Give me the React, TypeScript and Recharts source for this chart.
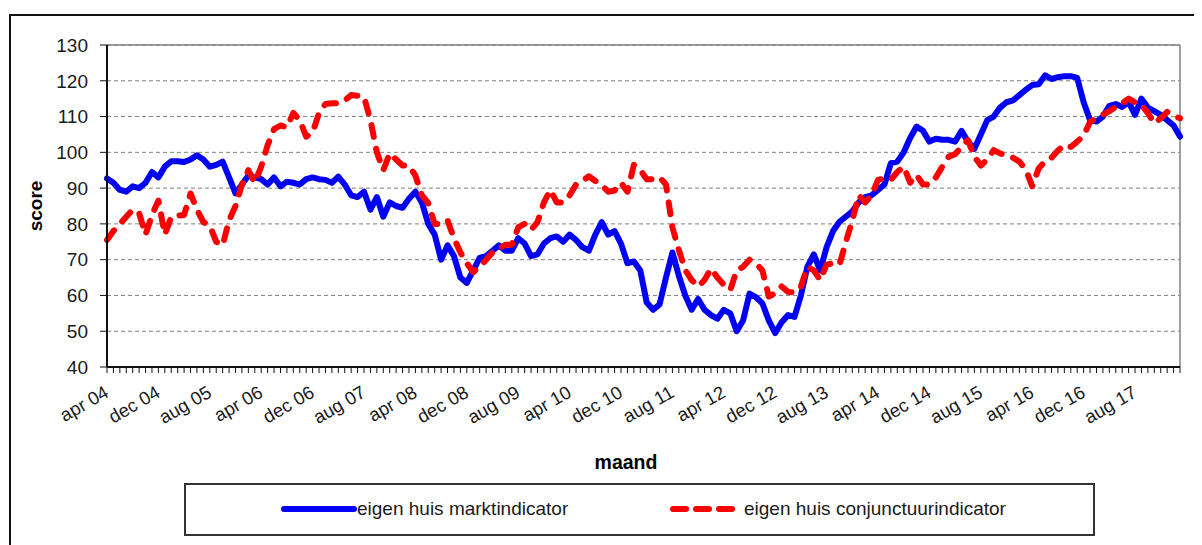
import React from 'react';
import {
  LineChart,
  Line,
  XAxis,
  YAxis,
  CartesianGrid,
  ReferenceLine,
} from 'recharts';

// maandnamen, reeks begint april 2004
const monthNames = ['jan', 'feb', 'mrt', 'apr', 'mei', 'jun', 'jul', 'aug', 'sep', 'okt', 'nov', 'dec'];
const startMonth = 3;
const startYear = 4;

const yTicks = [40, 50, 60, 70, 80, 90, 100, 110, 120, 130];

// eigen huis marktindicator (blauw)
const marktIndicator = [
  92.7, 91.5, 89.5, 89, 90.5, 90, 91.5, 94.5, 93, 96,
  97.5, 97.5, 97.3, 98, 99.2, 98, 96, 96.5, 97.4, 93,
  88.5, 91, 93.5, 93, 92.5, 91, 93, 90.5, 91.8, 91.5,
  91, 92.5, 93, 92.5, 92.3, 91.5, 93.2, 91, 88, 87.5,
  89, 84, 87.5, 82, 86, 85, 84.5, 87, 89, 86,
  80, 77, 70, 74, 71, 65, 63.5, 67, 70.5, 71,
  72.5, 74, 72.5, 72.5, 76, 74.5, 71, 71.5, 74.5, 76,
  76.5, 75, 77, 75.5, 73.5, 72.5, 77, 80.5, 77, 78,
  74.5, 69, 69.5, 67, 58, 56, 57.5, 65, 72, 65.5,
  60, 56, 59, 56, 54.5, 53.5, 56, 55, 50, 53,
  60.5, 59.5, 57.8, 53, 49.5, 52.5, 54.5, 54, 60, 68,
  71.5, 67, 73.5, 78, 80.6, 82, 83.5, 86, 87.5, 88,
  89.5, 91, 97, 97.4, 100, 104, 107.2, 106, 103, 103.8,
  103.5, 103.5, 103, 106, 103, 101, 105, 109, 110, 112.5,
  114, 114.5, 116, 117.5, 118.8, 119, 121.5, 120.5, 121, 121.3,
  121.3, 120.8, 114, 109, 108.6, 110, 113, 113.5, 112.7, 114,
  110.5, 115, 112.5, 111.5, 110.5, 109, 107.5, 104.4,
];

// eigen huis conjunctuurindicator (rood, gestreept)
const conjunctuurIndicator = [
  75.5, 78, 80, 82, 84, 83, 77, 82.5, 86.5, 77,
  82, 82.3, 82.5, 88.5, 84, 80.5, 79.5, 75, 74, 81,
  85, 91, 95, 91.5, 96, 102, 106.5, 107.5, 107, 111,
  109, 104.4, 105.5, 111, 113.5, 113.7, 113.7, 114.5, 116, 115.8,
  115.5, 109, 100, 95, 99.7, 98, 96.3, 96.3, 93.5, 88,
  85.8, 80, 80, 81, 76, 72, 69, 66.5, 68, 70,
  72, 73, 74.2, 74.2, 79, 80, 78.3, 80.5, 86, 89.5,
  86, 86, 88, 91, 92, 93.3, 92, 90.8, 89, 89.3,
  91.5, 89, 96.5, 95, 92.5, 92.5, 93, 91, 79, 72.7,
  67.1, 64.3, 62.5, 64.3, 67.5, 65, 63, 61.5, 67, 68,
  70, 69, 67, 59.7, 60.6, 62.5, 61, 60.8, 62.5, 68,
  67, 64.3, 68.6, 69, 68.6, 75, 81, 88, 86, 88,
  92.3, 92.7, 92.3, 94.5, 96, 91.5, 93.7, 91, 91, 93,
  96, 98.8, 99.5, 101.5, 103.4, 98.8, 96.3, 98, 100.6, 99.7,
  99.2, 98.5, 97.4, 95.2, 90.5, 95.5, 97.5, 98.5, 100.5, 102,
  101.5, 103, 104.7, 108.5, 109.5, 110.5, 111.5, 112.7, 113.7, 115,
  114, 113.2, 111, 108.1, 109.5, 111.3, 110.3, 109.5,
];

const monthLabels = marktIndicator.map((_, i) => {
  const m = startMonth + i;
  const yy = startYear + Math.floor(m / 12);
  return `${monthNames[m % 12]} ${String(yy).padStart(2, '0')}`;
});

const data = monthLabels.map((label, i) => ({
  label,
  markt: marktIndicator[i],
  conjunctuur: conjunctuurIndicator[i],
}));

const FONT = 'Arial, "Liberation Sans", sans-serif';
const BLUE = '#0000f5';
const RED = '#fa0000';

const MonthTick = (props: any) => {
  const { x, y, payload, index } = props;
  if (index % 8 !== 0) return <g />;
  const tx = x + 3;
  const ty = y + 21;
  return (
    <text
      x={tx}
      y={ty}
      textAnchor="end"
      transform={`rotate(-30 ${tx} ${ty})`}
      fontSize={18.5}
      fontFamily={FONT}
      fill="#1a1a1a"
    >
      {payload.value}
    </text>
  );
};

export default function App() {
  return (
    <div style={{ position: 'relative', width: 1194, height: 537, overflow: 'hidden', fontFamily: FONT }}>
      <div
        style={{
          position: 'absolute',
          left: 1,
          top: 6,
          width: 1200,
          height: 560,
          borderTop: '2px solid #111',
          borderLeft: '2px solid #111',
        }}
      />
      <div style={{ position: 'absolute', left: 0, top: 0 }}>
        <LineChart
          width={1190}
          height={470}
          data={data}
          margin={{ top: 37, right: 18, bottom: 51, left: 49 }}
        >
          <CartesianGrid vertical={false} stroke="#808080" strokeDasharray="4 3" />
          <ReferenceLine y={130} stroke="#808080" strokeWidth={1.5} />
          <ReferenceLine x={monthLabels[monthLabels.length - 1]} stroke="#808080" strokeWidth={1.5} />
          <XAxis
            dataKey="label"
            interval={0}
            height={60}
            tickSize={6}
            tickLine={{ stroke: '#111' }}
            axisLine={{ stroke: '#111', strokeWidth: 2 }}
            tick={<MonthTick />}
          />
          <YAxis
            width={50}
            domain={[40, 130]}
            ticks={yTicks}
            interval={0}
            tickSize={7}
            tickMargin={12}
            tickLine={{ stroke: '#111' }}
            axisLine={{ stroke: '#111', strokeWidth: 2 }}
            tick={{ fontSize: 19, fontFamily: FONT, fill: '#1a1a1a' }}
          />
          <Line
            dataKey="markt"
            stroke={BLUE}
            strokeWidth={6}
            strokeLinejoin="round"
            strokeLinecap="round"
            dot={false}
            isAnimationActive={false}
            type="linear"
          />
          <Line
            dataKey="conjunctuur"
            stroke={RED}
            strokeWidth={6}
            strokeDasharray="12 12"
            strokeLinecap="round"
            strokeLinejoin="round"
            dot={false}
            isAnimationActive={false}
            type="linear"
          />
        </LineChart>
      </div>

      {/* asstitels */}
      <div
        style={{
          position: 'absolute',
          left: 36 - 8 - 40,
          top: 206 - 8 - 12,
          width: 80,
          height: 24,
          textAlign: 'center',
          fontWeight: 'bold',
          fontSize: 19,
          lineHeight: '24px',
          transform: 'rotate(-90deg)',
        }}
      >
        score
      </div>
      <div
        style={{
          position: 'absolute',
          left: 626 - 8 - 60,
          top: 462 - 8 - 12,
          width: 120,
          height: 24,
          textAlign: 'center',
          fontWeight: 'bold',
          fontSize: 19.5,
          lineHeight: '24px',
        }}
      >
        maand
      </div>

      {/* legenda */}
      <div
        style={{
          position: 'absolute',
          left: 184 - 8,
          top: 483 - 8,
          width: 911,
          height: 53,
          border: '2px solid #333',
          boxSizing: 'border-box',
          fontSize: 19,
          color: '#1a1a1a',
        }}
      >
        <svg width={76} height={10} style={{ position: 'absolute', left: 281 - 186, top: 509 - 485 - 5 }}>
          <line x1={3} y1={5} x2={73} y2={5} stroke={BLUE} strokeWidth={6} strokeLinecap="round" />
        </svg>
        <span style={{ position: 'absolute', left: 357 - 186, top: 509 - 485 - 12, lineHeight: '24px' }}>
          eigen huis marktindicator
        </span>
        <svg width={76} height={10} style={{ position: 'absolute', left: 668 - 186, top: 509 - 485 - 5 }}>
          <line x1={5} y1={5} x2={71} y2={5} stroke={RED} strokeWidth={6} strokeDasharray="13 10" strokeLinecap="round" />
        </svg>
        <span style={{ position: 'absolute', left: 744 - 186, top: 509 - 485 - 12, lineHeight: '24px' }}>
          eigen huis conjunctuurindicator
        </span>
      </div>
    </div>
  );
}
